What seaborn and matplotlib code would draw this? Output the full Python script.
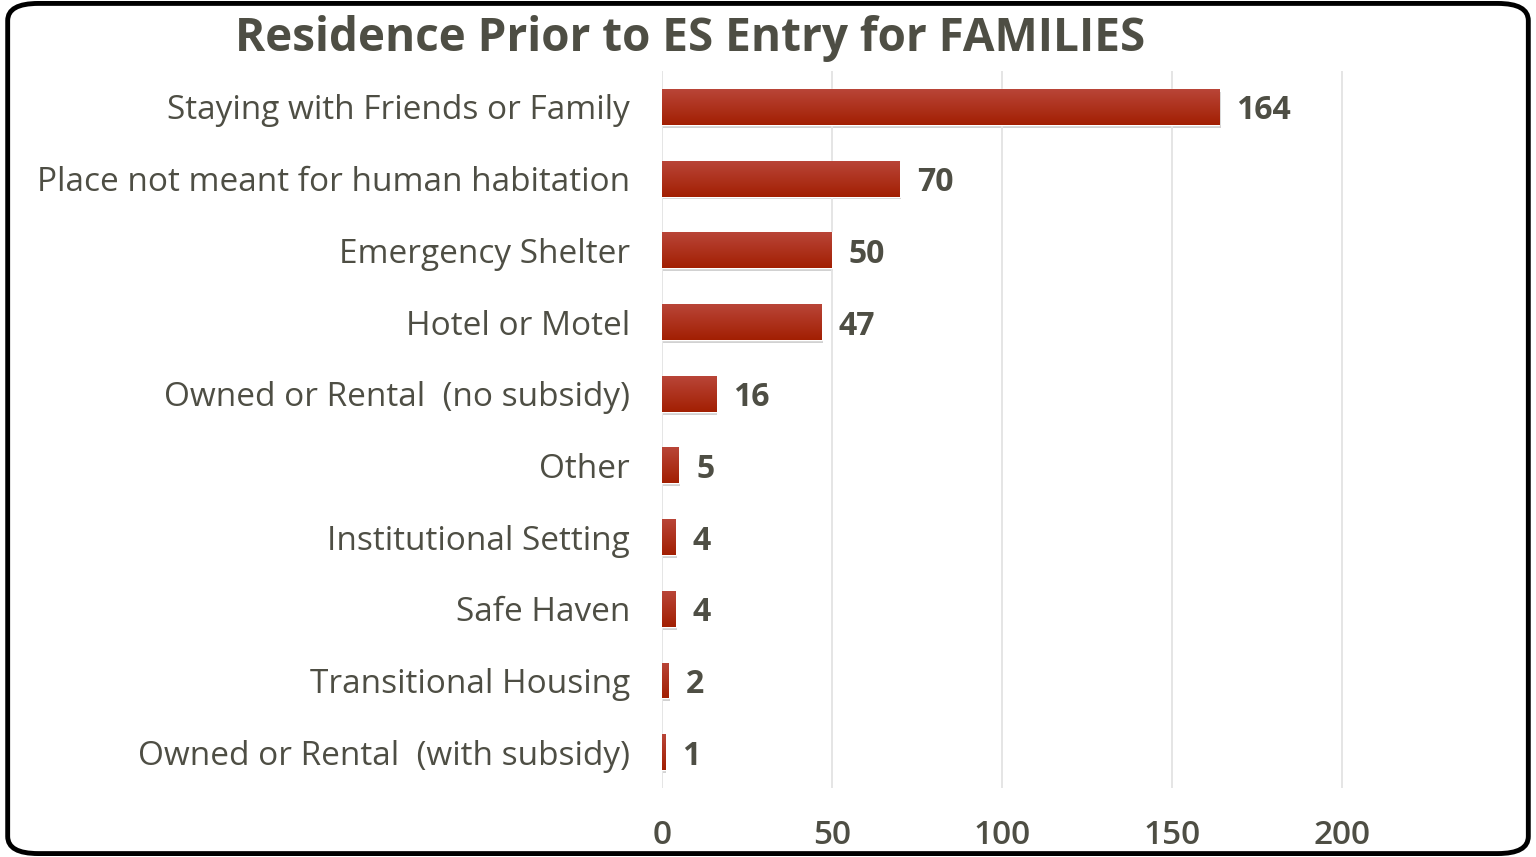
import numpy as np
import pandas as pd
import matplotlib
matplotlib.use("Agg")
import matplotlib.pyplot as plt
import seaborn as sns
from matplotlib.patches import FancyBboxPatch
from matplotlib.colors import LinearSegmentedColormap

categories = [
    "Staying with Friends or Family",
    "Place not meant for human habitation",
    "Emergency Shelter",
    "Hotel or Motel",
    "Owned or Rental  (no subsidy)",
    "Other",
    "Institutional Setting",
    "Safe Haven",
    "Transitional Housing",
    "Owned or Rental  (with subsidy)",
]
values = [164, 70, 50, 47, 16, 5, 4, 4, 2, 1]
x_ticks = [0, 50, 100, 150, 200]
title = "Residence Prior to ES Entry for FAMILIES"

sns.set_theme(style="white")
plt.rcParams['font.family'] = ['Open Sans', 'DejaVu Sans']

text_color = "#4E4E44"
df = pd.DataFrame({"cat": categories, "val": values})

fig = plt.figure(figsize=(15.36, 8.57), dpi=100)
ax = fig.add_axes([0.431, 0.0805, 0.509, 0.8365])

sns.barplot(data=df, x="val", y="cat", orient="h", color="#A8260E",
            width=0.5, ax=ax, saturation=1)

ax.set_xlim(0, 230)
ax.set_xticks(x_ticks)
ax.set_xticklabels([str(t) for t in x_ticks], fontsize=24, fontweight="semibold",
                   color=text_color)
ax.tick_params(axis="y", labelsize=24, labelcolor=text_color, length=0, pad=23)
ax.tick_params(axis="x", length=0, pad=22)
ax.set_xlabel("")
ax.set_ylabel("")
for s in ax.spines.values():
    s.set_visible(False)
ax.xaxis.grid(True, color="#E3E3E3", linewidth=1.3)
ax.set_axisbelow(True)

# gradient + shadow on bars
grad = np.linspace(0, 1, 256).reshape(-1, 1)
cmap = LinearSegmentedColormap.from_list("g", ["#B94538", "#A21F02"])
for p in ax.patches:
    x0, y0 = p.get_x(), p.get_y()
    w, h = p.get_width(), p.get_height()
    sh = plt.Rectangle((x0 + 0.3, y0 + 0.04), w, h, facecolor="#000000",
                       alpha=0.18, edgecolor="none", zorder=p.get_zorder() - 0.5)
    ax.add_patch(sh)
    im = ax.imshow(grad, extent=(x0, x0 + w, y0 + h, y0), cmap=cmap,
                   aspect="auto", zorder=p.get_zorder() + 0.1)
    im.set_clip_path(p)
ax.set_xlim(0, 230)
ax.set_ylim(len(categories) - 0.5, -0.5)

for i, v in enumerate(values):
    ax.text(v + 5, i, str(v), va="center_baseline", ha="left", fontsize=23,
            fontweight="bold", color=text_color)

fig.text(0.449, 0.955, title, ha="center", va="center", fontsize=33,
         fontweight="bold", color=text_color)

border = FancyBboxPatch((0.005, 0.004), 0.99, 0.992,
                        boxstyle="round,pad=0,rounding_size=0.02",
                        transform=fig.transFigure, facecolor="none",
                        edgecolor="black", linewidth=3.5, zorder=10)
fig.patches.append(border)

fig.savefig("out.png", dpi=100)
